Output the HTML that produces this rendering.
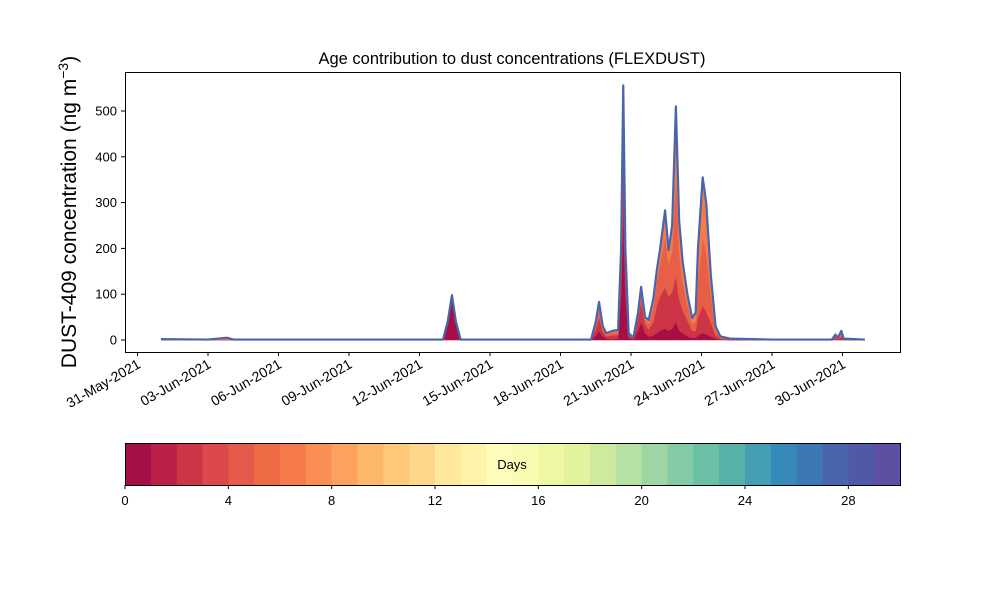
<!DOCTYPE html>
<html><head><meta charset="utf-8"><style>
body{margin:0;background:#fff}
svg text{font-family:"Liberation Sans","DejaVu Sans",sans-serif;fill:#000}
</style></head><body>
<svg id="chart" width="1000" height="600" viewBox="0 0 1000 600" xmlns="http://www.w3.org/2000/svg">
<rect width="1000" height="600" fill="#fff"/>
<g id="plot"></g>
<g id="axes"></g>
<g id="cbar"></g>
</svg>
<script>
const T=[1.0,3.0,3.8,4.1,13.0,13.2,13.38,13.55,13.75,19.3,19.5,19.64,19.8,19.95,20.2,20.45,20.58,20.67,20.76,20.9,21.1,21.3,21.43,21.6,21.75,21.95,22.1,22.23,22.45,22.6,22.75,22.91,23.05,23.2,23.4,23.6,23.75,23.85,24.05,24.2,24.4,24.6,24.8,25.2,27.0,29.55,29.7,29.8,29.95,30.05,30.95];
const total=[2,1,5,1,1,40,98,40,1,1,40,83,30,15,20,22,200,556,200,15,5,60,116,50,44,90,153,196,283,196,250,510,260,170,100,48,60,200,355,300,140,30,8,3,1,1,12,5,20,3,1];
const age0=[0,0,0,0,0,38,95,38,0,0,10,20,8,3,2,3,100,280,100,5,1,20,40,15,8,10,15,20,25,20,25,40,20,15,8,5,5,10,15,12,8,3,1,0,0,0,1,0,2,0,0];
const age2=[0,0,0,0,0,1,2,1,0,0,15,30,10,5,8,8,60,150,60,5,2,25,45,20,15,30,60,75,90,75,80,100,70,50,35,15,15,40,60,50,30,8,2,1,0,0,4,2,6,1,0];
const age5=[1,0,2,0,0,0,0,0,0,0,8,18,6,4,6,6,20,60,20,3,1,8,20,10,12,30,55,70,110,70,90,220,100,60,35,15,20,80,150,130,60,10,3,1,0,0,4,2,7,1,0];
const yTicks=[0,100,200,300,400,500];
const xTickDays=[0,3,6,9,12,15,18,21,24,27,30];
const xTickLabels=["31-May-2021","03-Jun-2021","06-Jun-2021","09-Jun-2021","12-Jun-2021","15-Jun-2021","18-Jun-2021","21-Jun-2021","24-Jun-2021","27-Jun-2021","30-Jun-2021"];
const cbColors=["#a50f45","#bb2047","#cd3445","#dc484b","#e55a4a","#ef6b44","#f57c4a","#f98f54","#fba35e","#fdb768","#fdc877","#fed88a","#fee89a","#fff3aa","#fffdbc","#f7fcb2","#eef8a4","#e1f39c","#cdea9e","#b7e1a2","#9dd5a4","#84cba5","#6bbfa5","#56b1a8","#459eb3","#368aba","#3d77b4","#4a65ab","#5158a5","#5e4fa2"];
const cbTicks=[0,4,8,12,16,20,24,28];

const NS="http://www.w3.org/2000/svg";
const X=d=>137.5+d*23.5, Y=v=>340-v*0.458;
function mk(tag,attrs,parent){const e=document.createElementNS(NS,tag);for(const k in attrs)e.setAttribute(k,attrs[k]);parent.appendChild(e);return e;}
const plot=document.getElementById('plot'), axes=document.getElementById('axes'), cb=document.getElementById('cbar');

const rest=total.map((v,i)=>Math.max(0,v-age0[i]-age2[i]-age5[i]));
const layers=[[age0,"#a50f45","layer-age-0"],[age2,"#cd3445","layer-age-2"],[age5,"#e85f48","layer-age-5"],[rest,"#f57c4a","layer-age-older"]];
let base=T.map(()=>0);
layers.forEach(([arr,col,name])=>{
  const top=base.map((b,i)=>b+arr[i]);
  let d="M"+T.map((t,i)=>X(t)+","+Y(top[i])).join("L");
  for(let i=T.length-1;i>=0;i--) d+="L"+X(T[i])+","+Y(base[i]);
  const p=mk('path',{d:d+"Z",fill:col,stroke:col,'stroke-width':0.5},plot);
  
  
  base=top;
});
const tl=mk('path',{d:"M"+T.map((t,i)=>X(t)+","+Y(total[i])).join("L"),fill:"none",stroke:"#4a65ab",'stroke-width':2.2,'stroke-linejoin':'round'},plot);



const fr=mk('rect',{x:125.5,y:72.5,width:775,height:280,fill:"none",stroke:"#000",'stroke-width':1},axes);


yTicks.forEach(v=>{
  mk('line',{x1:121,x2:125,y1:Y(v),y2:Y(v),stroke:"#000"},axes);
  const t=mk('text',{x:117,y:Y(v)+4.5,'text-anchor':'end','font-size':13},axes);t.textContent=v;
  
  
});
xTickDays.forEach((d,i)=>{
  mk('line',{x1:X(d),x2:X(d),y1:352,y2:356,stroke:"#000"},axes);
  const t=mk('text',{x:0,y:0,'text-anchor':'end','font-size':14,transform:`translate(${X(d)+4},${367}) rotate(-30)`},axes);t.textContent=xTickLabels[i];
  
  
});
const ti=mk('text',{x:512,y:64,'text-anchor':'middle','font-size':16.5},axes);ti.textContent="Age contribution to dust concentrations (FLEXDUST)";


const yl=mk('text',{x:0,y:0,'text-anchor':'middle','font-size':21,transform:"translate(76,212) rotate(-90)"},axes);
yl.innerHTML='DUST-409 concentration (ng m<tspan dy="-8" font-size="14">−3</tspan><tspan dy="8">)</tspan>';



const w=775/30;
cbColors.forEach((c,i)=>{
  const r=mk('rect',{x:125+i*w,y:443,width:w+0.5,height:42,fill:c},cb);
  
  
});
mk('rect',{x:125.5,y:443.5,width:775,height:42,fill:"none",stroke:"#000"},cb);
cbTicks.forEach(v=>{
  mk('line',{x1:125+v*w,x2:125+v*w,y1:485,y2:489,stroke:"#000"},cb);
  const t=mk('text',{x:125+v*w,y:505,'text-anchor':'middle','font-size':13},cb);t.textContent=v;
  
  
});
const dl=mk('text',{x:512,y:469,'text-anchor':'middle','font-size':13},cb);dl.textContent="Days";


</script>
</body></html>
